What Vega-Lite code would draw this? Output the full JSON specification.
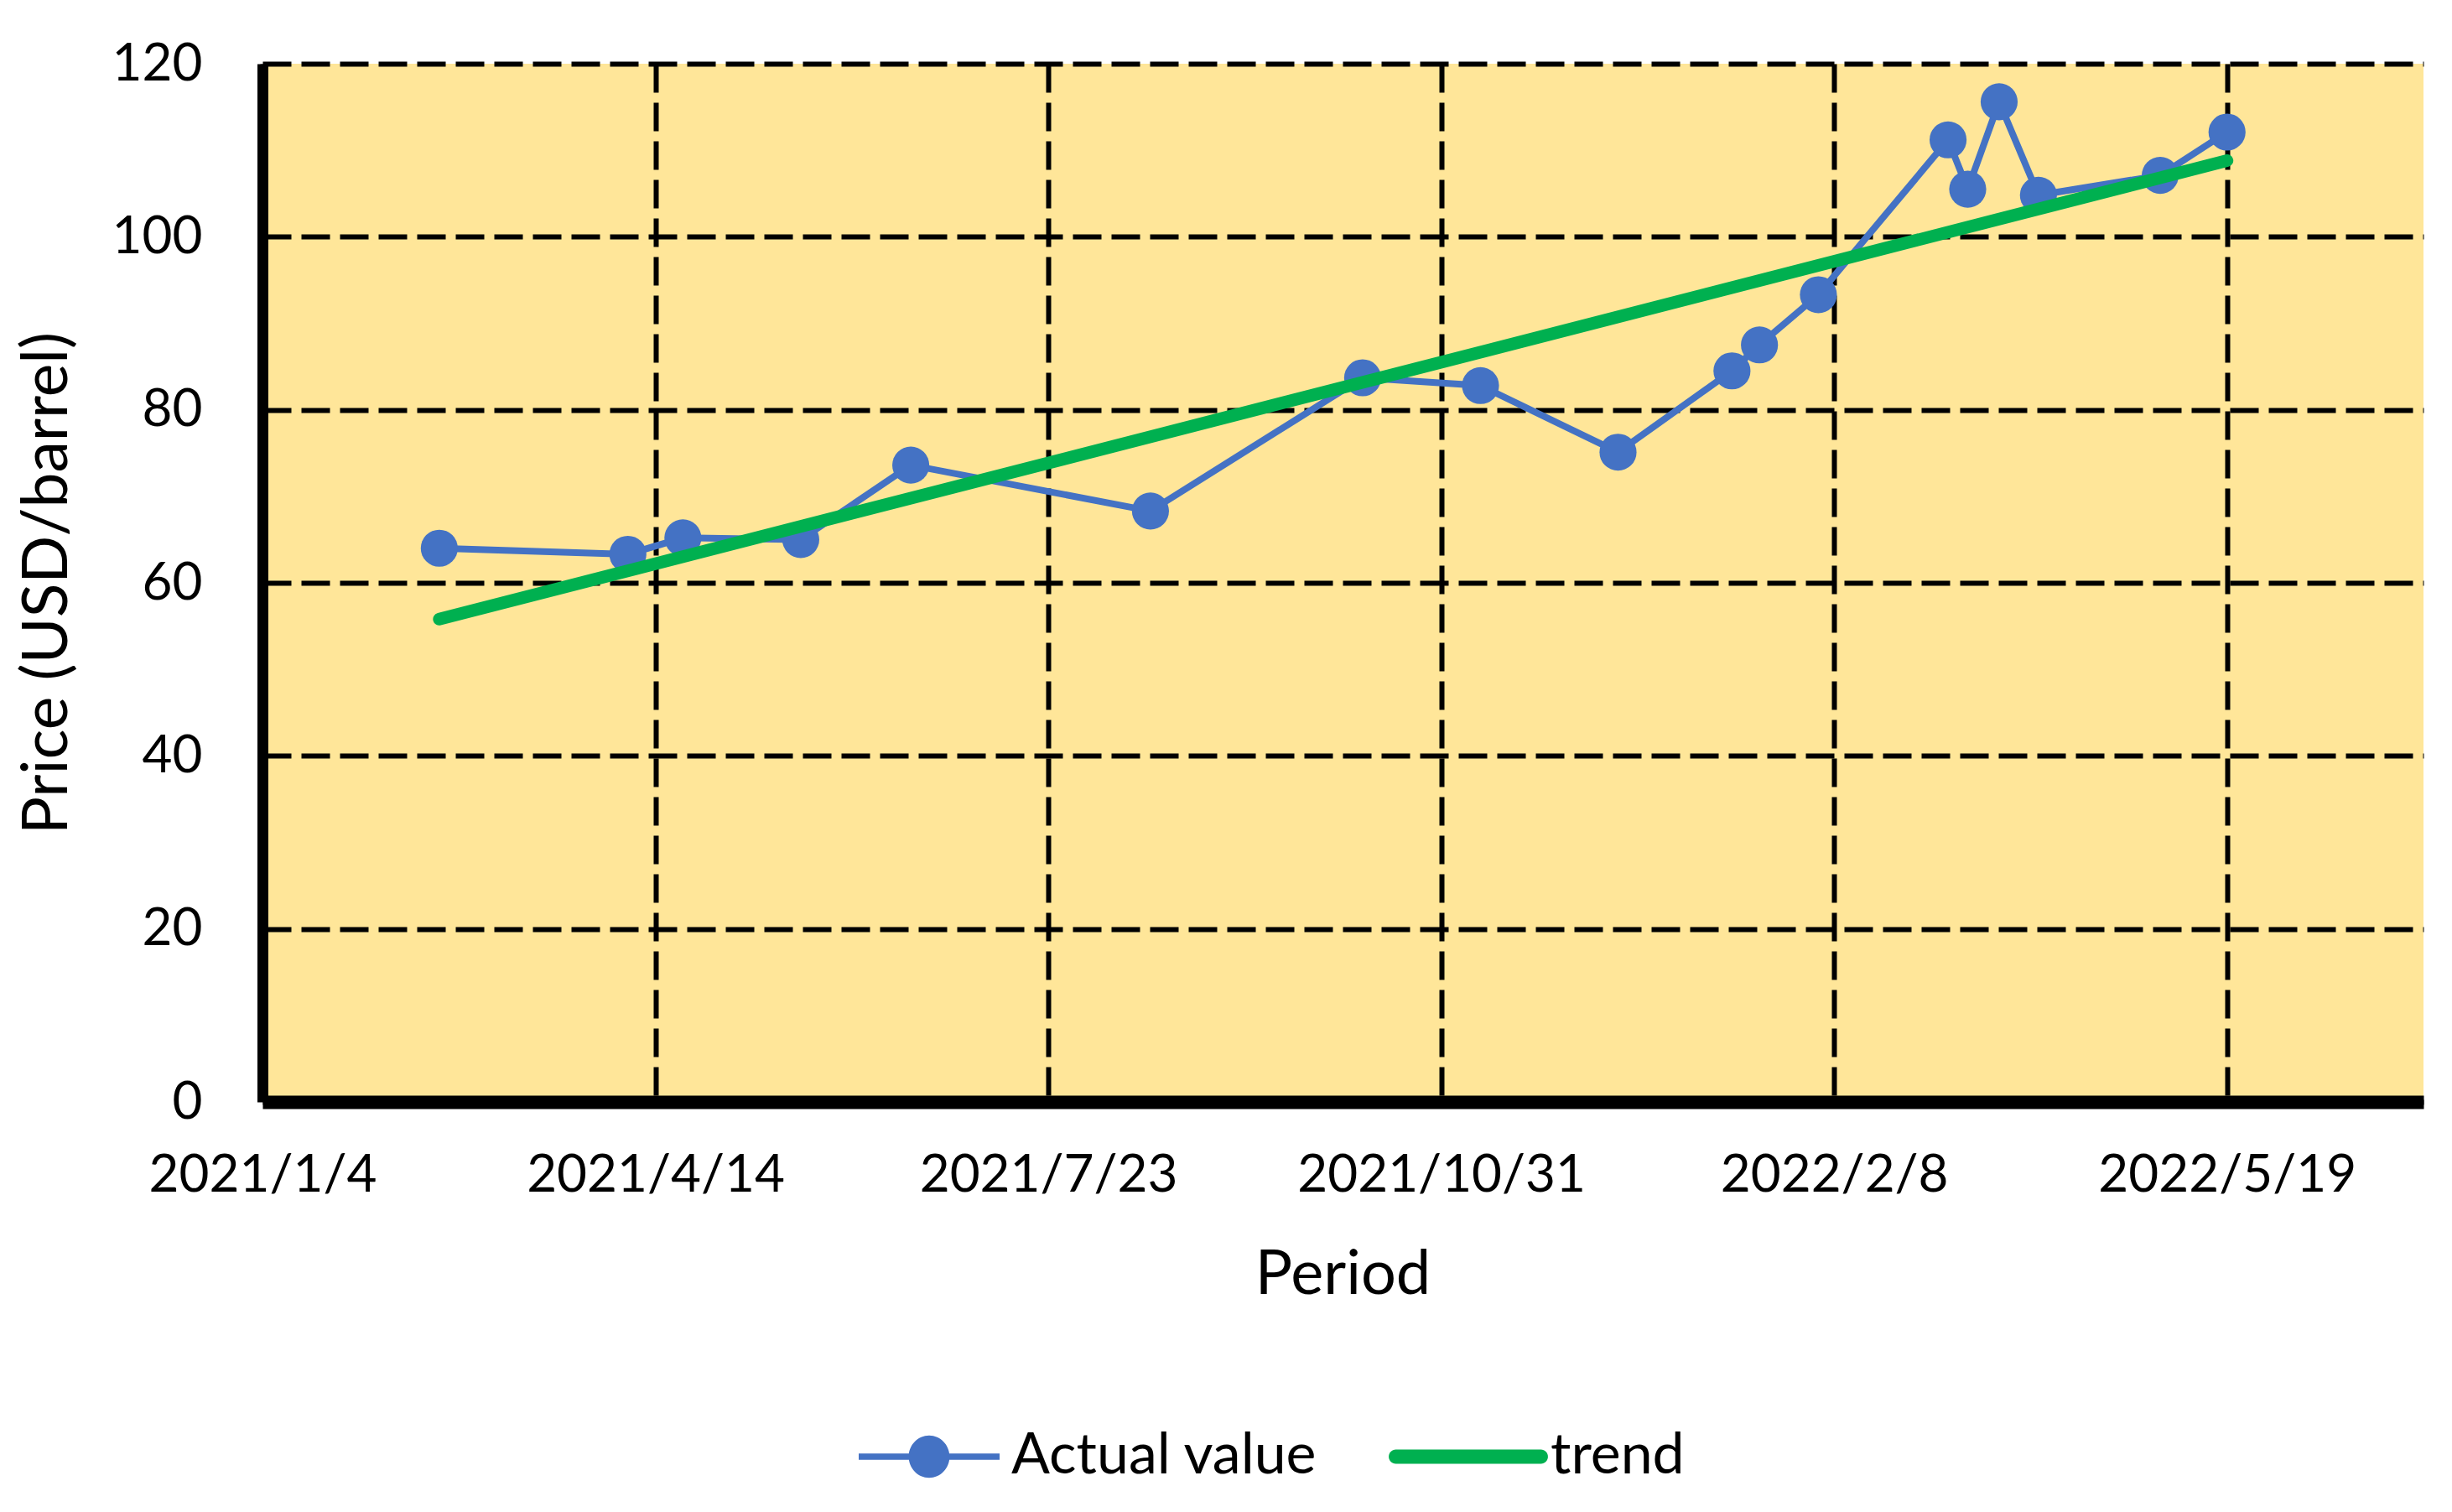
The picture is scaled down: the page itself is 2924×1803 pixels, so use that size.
{
  "$schema": "https://vega.github.io/schema/vega-lite/v6.json",
  "width": 2577,
  "height": 1238,
  "autosize": {"type": "none"},
  "padding": {"left": 313, "top": 76, "right": 34, "bottom": 489},
  "background": "white",
  "config": {
    "font": "Lato",
    "view": {"fill": "#FFE699", "stroke": null}
  },
  "data": {
    "values": [
      {"date": "2021-02-18", "series": "Actual value", "price": 64.0},
      {"date": "2021-04-07", "series": "Actual value", "price": 63.3},
      {"date": "2021-04-21", "series": "Actual value", "price": 65.2},
      {"date": "2021-05-21", "series": "Actual value", "price": 65.0},
      {"date": "2021-06-18", "series": "Actual value", "price": 73.6},
      {"date": "2021-08-18", "series": "Actual value", "price": 68.3},
      {"date": "2021-10-11", "series": "Actual value", "price": 83.7},
      {"date": "2021-11-10", "series": "Actual value", "price": 82.8},
      {"date": "2021-12-15", "series": "Actual value", "price": 75.1},
      {"date": "2022-01-13", "series": "Actual value", "price": 84.5},
      {"date": "2022-01-20", "series": "Actual value", "price": 87.5},
      {"date": "2022-02-04", "series": "Actual value", "price": 93.3},
      {"date": "2022-03-09", "series": "Actual value", "price": 111.2},
      {"date": "2022-03-14", "series": "Actual value", "price": 105.5},
      {"date": "2022-03-22", "series": "Actual value", "price": 115.6},
      {"date": "2022-04-01", "series": "Actual value", "price": 104.8},
      {"date": "2022-05-02", "series": "Actual value", "price": 107.1},
      {"date": "2022-05-19", "series": "Actual value", "price": 112.1},
      {"date": "2021-02-18", "series": "trend", "price": 55.8},
      {"date": "2022-05-19", "series": "trend", "price": 108.8}
    ]
  },
  "encoding": {
    "x": {
      "field": "date",
      "type": "temporal",
      "scale": {
        "type": "utc",
        "domain": [
          {"year": 2021, "month": 1, "date": 4, "utc": true},
          {"year": 2022, "month": 7, "date": 8, "utc": true}
        ]
      },
      "axis": {
        "title": "Period",
        "titleFontSize": 74,
        "titleFontWeight": "normal",
        "titleColor": "black",
        "titleX": 1288,
        "titleY": 228,
        "titleBaseline": "alphabetic",
        "values": [
          {"year": 2021, "month": 1, "date": 4, "utc": true},
          {"year": 2021, "month": 4, "date": 14, "utc": true},
          {"year": 2021, "month": 7, "date": 23, "utc": true},
          {"year": 2021, "month": 10, "date": 31, "utc": true},
          {"year": 2022, "month": 2, "date": 8, "utc": true},
          {"year": 2022, "month": 5, "date": 19, "utc": true}
        ],
        "labelExpr": "utcFormat(datum.value, '%Y/%-m/%-d')",
        "labelFontSize": 62,
        "labelColor": "black",
        "labelBaseline": "alphabetic",
        "labelPadding": 106,
        "labelLimit": 0,
        "labelFlush": false,
        "labelOverlap": false,
        "ticks": false,
        "tickSize": 0,
        "domainColor": "black",
        "domainWidth": 16,
        "grid": true,
        "gridColor": "black",
        "gridWidth": 6,
        "gridDash": [34, 12],
        "gridOpacity": 1
      }
    },
    "y": {
      "field": "price",
      "type": "quantitative",
      "scale": {"domain": [0, 120], "nice": false, "zero": true},
      "axis": {
        "title": "Price (USD/barrel)",
        "titleFontSize": 75,
        "titleFontWeight": "normal",
        "titleColor": "black",
        "titleX": -257,
        "titleY": 619,
        "titleAngle": -90,
        "titleAlign": "center",
        "titleBaseline": "middle",
        "values": [0, 20, 40, 60, 80, 100, 120],
        "labelFontSize": 62,
        "labelColor": "black",
        "labelPadding": 72,
        "labelBaseline": "middle",
        "labelLimit": 0,
        "ticks": false,
        "tickSize": 0,
        "domainColor": "black",
        "domainWidth": 13,
        "grid": true,
        "gridColor": "black",
        "gridWidth": 6,
        "gridDash": [34, 12],
        "gridOpacity": 1
      }
    },
    "color": {
      "field": "series",
      "type": "nominal",
      "scale": {"domain": ["Actual value", "trend"], "range": ["#4472C4", "#00B050"]},
      "legend": {
        "title": null,
        "orient": "none",
        "direction": "horizontal",
        "legendX": 711,
        "legendY": 1577,
        "padding": 0,
        "symbolSize": 28224,
        "labelFontSize": 68,
        "labelColor": "black",
        "labelOffset": 14,
        "labelLimit": 0,
        "columnPadding": 84,
        "encode": {
          "symbols": {
            "update": {
              "shape": {"signal": "datum.value === 'trend' ? 'M-1.03,-0.1 L1.03,-0.1 A0.1,0.1 0 0,1 1.03,0.1 L-1.03,0.1 A0.1,0.1 0 0,1 -1.03,-0.1 Z' : 'M-1,-0.045 L1,-0.045 L1,0.045 L-1,0.045 Z M0.29,0 A0.29,0.3 0 1,1 -0.29,0 A0.29,0.3 0 1,1 0.29,0 Z'"},
              "fill": {"signal": "datum.value === 'trend' ? '#00B050' : '#4472C4'"},
              "stroke": {"value": "transparent"},
              "strokeWidth": {"value": 0},
              "size": {"value": 28224},
              "opacity": {"value": 1}
            }
          }
        }
      }
    }
  },
  "layer": [
    {
      "transform": [{"filter": "datum.series === 'Actual value'"}],
      "mark": {"type": "line", "strokeWidth": 8},
      "encoding": {}
    },
    {
      "transform": [{"filter": "datum.series === 'Actual value'"}],
      "mark": {"type": "point", "filled": true, "size": 1950, "opacity": 1, "shape": "circle"},
      "encoding": {}
    },
    {
      "transform": [{"filter": "datum.series === 'trend'"}],
      "mark": {"type": "line", "strokeWidth": 15, "strokeCap": "round"},
      "encoding": {}
    }
  ]
}
